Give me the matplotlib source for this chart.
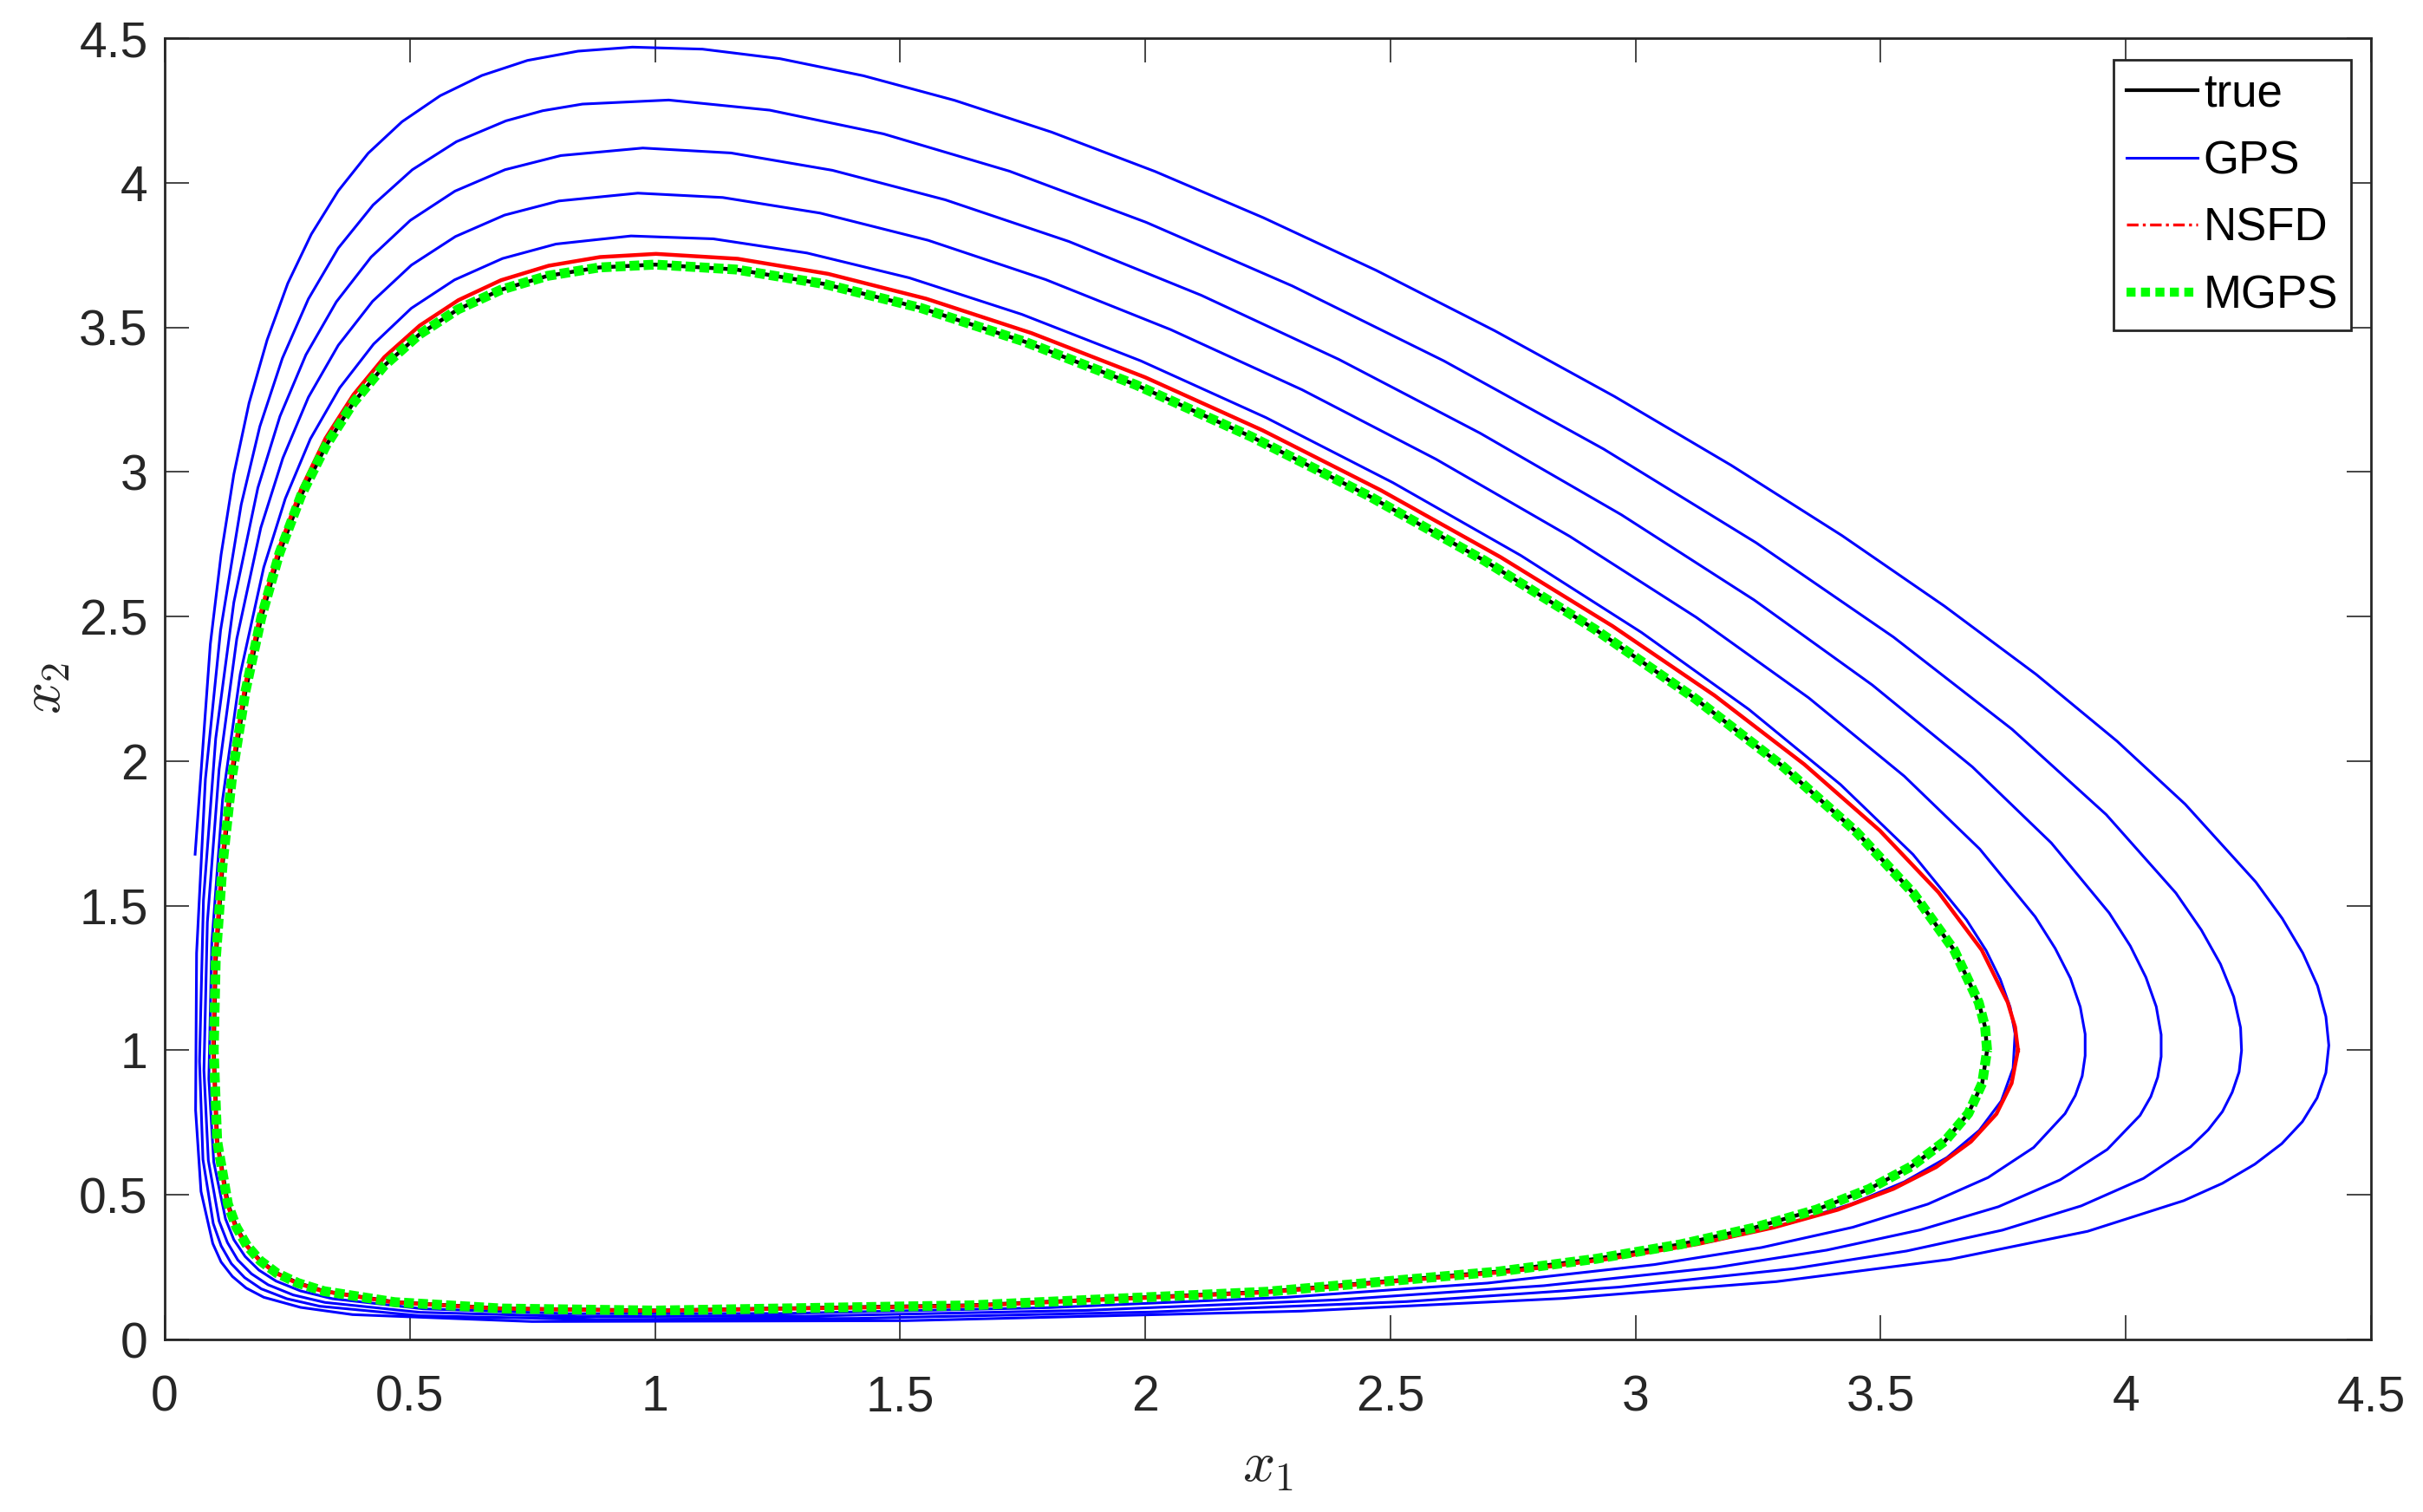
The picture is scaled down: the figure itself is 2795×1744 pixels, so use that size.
import matplotlib
matplotlib.use('Agg')
import matplotlib.pyplot as plt
from matplotlib.lines import Line2D

plt.rcParams['font.family'] = ['Liberation Sans', 'DejaVu Sans']
plt.rcParams['mathtext.fontset'] = 'cm'

# ---------------- data ----------------
true_x1 = [3.717,3.713,3.700,3.650,3.567,3.451,3.301,3.121,2.917,2.692,2.456,2.216,1.981,1.753,1.542,1.345,1.165,1.000,0.886,0.781,
           0.686,0.598,0.519,0.448,0.385,0.329,0.278,0.234,0.197,0.165,0.138,0.118,0.104,0.100,0.107,0.129,0.146,0.168,0.195,0.229,
           0.272,0.325,0.469,0.688,1.001,1.644,2.247,2.721,2.920,3.092,3.241,3.369,3.476,3.563,3.631,3.679,3.707,3.717]
true_x2 = [1.000,1.080,1.165,1.346,1.542,1.754,1.981,2.217,2.456,2.693,2.917,3.122,3.301,3.451,3.567,3.650,3.700,3.717,3.707,3.678,
           3.630,3.562,3.475,3.368,3.240,3.091,2.918,2.719,2.496,2.244,1.955,1.641,1.310,0.999,0.686,0.468,0.389,0.324,0.272,0.229,
           0.195,0.167,0.129,0.107,0.100,0.118,0.165,0.235,0.279,0.329,0.386,0.449,0.520,0.599,0.686,0.782,0.886,1.000]

nsfd_x1 = [3.780,3.774,3.759,3.706,3.618,3.498,3.344,3.161,2.953,2.725,2.480,2.239,2.000,1.768,1.553,1.353,1.169,1.002,0.888,0.783,
           0.686,0.599,0.520,0.448,0.385,0.328,0.278,0.234,0.196,0.164,0.137,0.117,0.103,0.099,0.106,0.127,0.144,0.166,0.193,0.226,
           0.268,0.320,0.463,0.678,0.989,1.637,2.249,2.744,2.947,3.127,3.281,3.413,3.526,3.613,3.684,3.736,3.767,3.780]
nsfd_x2 = [1.000,1.081,1.166,1.347,1.546,1.760,1.989,2.227,2.467,2.705,2.937,3.144,3.327,3.480,3.599,3.685,3.737,3.754,3.743,3.713,
           3.663,3.594,3.506,3.397,3.267,3.116,2.940,2.740,2.515,2.262,1.970,1.653,1.319,1.005,0.690,0.471,0.391,0.326,0.273,0.230,
           0.196,0.168,0.129,0.107,0.099,0.116,0.163,0.235,0.279,0.330,0.387,0.449,0.521,0.596,0.684,0.780,0.886,1.000]

gps_x1 = [1.000,1.667,2.292,2.780,2.982,3.160,3.312,3.441,3.548,3.635,3.701,3.746,3.770,3.774,3.764,3.744,3.715,3.675,3.566,3.418,
          3.231,3.012,2.766,2.505,2.246,1.991,1.748,1.519,1.310,1.119,0.951,0.798,0.689,0.591,0.503,0.426,0.357,0.297,0.246,0.202,
          0.154,0.118,0.096,0.090,0.100,0.124,0.141,0.164,0.192,0.227,0.277,0.342,0.527,0.828,1.264,1.802,2.289,2.698,3.038,3.257,
          3.443,3.596,3.719,3.812,3.876,3.897,3.911,3.917,3.917,3.907,3.887,3.856,3.815,3.702,3.548,3.353,3.124,2.866,2.593,2.320,
          2.052,1.797,1.557,1.337,1.138,0.965,0.804,0.693,0.593,0.503,0.424,0.354,0.293,0.241,0.196,0.147,0.111,0.087,0.080,0.089,
          0.111,0.128,0.149,0.177,0.211,0.262,0.327,0.520,0.842,1.317,1.884,2.391,2.813,3.165,3.390,3.581,3.740,3.866,3.962,4.029,
          4.051,4.065,4.072,4.072,4.062,4.041,4.009,3.966,3.848,3.687,3.483,3.242,2.971,2.683,2.395,2.114,1.844,1.592,1.362,1.155,
          0.975,0.808,0.694,0.592,0.501,0.421,0.350,0.288,0.235,0.190,0.141,0.104,0.079,0.071,0.078,0.099,0.115,0.136,0.163,0.197,
          0.249,0.316,0.521,0.880,1.412,2.011,2.533,2.965,3.323,3.553,3.748,3.909,4.036,4.132,4.168,4.197,4.217,4.231,4.236,4.234,
          4.220,4.193,4.154,4.102,3.960,3.768,3.526,3.246,2.935,2.609,2.300,2.002,1.723,1.466,1.234,1.028,0.852,0.771,0.696,0.595,
          0.505,0.425,0.354,0.293,0.240,0.194,0.156,0.114,0.083,0.065,0.063,0.074,0.098,0.115,0.138,0.166,0.202,0.277,0.383,0.749,
          1.511,2.318,2.852,3.287,3.641,3.922,4.118,4.197,4.263,4.318,4.360,4.390,4.408,4.414,4.408,4.391,4.361,4.319,4.265,4.121,
          3.982,3.817,3.630,3.421,3.195,2.957,2.713,2.471,2.241,2.020,1.809,1.611,1.425,1.255,1.097,0.954,0.843,0.740,0.647,0.562,
          0.484,0.415,0.354,0.299,0.251,0.209,0.172,0.141,0.115,0.093,0.062]
gps_x2 = [0.100,0.118,0.168,0.241,0.288,0.341,0.401,0.469,0.545,0.629,0.723,0.825,0.938,1.057,1.149,1.245,1.345,1.451,1.677,1.919,
          2.179,2.445,2.711,2.963,3.188,3.384,3.545,3.671,3.757,3.806,3.816,3.788,3.738,3.664,3.566,3.442,3.291,3.114,2.908,2.670,
          2.300,1.867,1.370,0.901,0.614,0.417,0.345,0.287,0.240,0.202,0.168,0.141,0.106,0.089,0.090,0.110,0.146,0.195,0.259,0.318,
          0.388,0.468,0.560,0.664,0.781,0.844,0.911,0.981,1.056,1.150,1.249,1.352,1.462,1.696,1.948,2.219,2.497,2.777,3.044,3.284,
          3.492,3.665,3.801,3.895,3.949,3.964,3.937,3.888,3.814,3.715,3.590,3.438,3.258,3.048,2.807,2.423,1.972,1.443,0.931,0.619,
          0.409,0.335,0.275,0.227,0.189,0.154,0.128,0.094,0.079,0.081,0.101,0.137,0.186,0.249,0.309,0.379,0.459,0.552,0.657,0.775,
          0.840,0.907,0.978,1.054,1.151,1.252,1.361,1.475,1.717,1.980,2.263,2.557,2.852,3.134,3.389,3.611,3.797,3.941,4.043,4.103,
          4.120,4.094,4.045,3.971,3.870,3.743,3.588,3.405,3.192,2.945,2.549,2.078,1.519,0.962,0.622,0.401,0.324,0.262,0.214,0.175,
          0.141,0.115,0.082,0.069,0.073,0.095,0.131,0.181,0.245,0.306,0.378,0.462,0.557,0.666,0.725,0.788,0.855,0.925,0.999,1.078,
          1.185,1.298,1.416,1.544,1.815,2.110,2.429,2.755,3.079,3.384,3.643,3.863,4.040,4.169,4.251,4.286,4.272,4.249,4.214,4.142,
          4.045,3.923,3.774,3.598,3.393,3.157,2.887,2.453,1.938,1.336,0.793,0.512,0.332,0.268,0.218,0.178,0.146,0.111,0.086,0.062,
          0.065,0.098,0.142,0.200,0.277,0.374,0.480,0.540,0.606,0.677,0.753,0.835,0.922,1.017,1.117,1.223,1.336,1.456,1.582,1.851,
          2.069,2.300,2.536,2.780,3.023,3.261,3.488,3.697,3.879,4.039,4.175,4.285,4.370,4.429,4.462,4.469,4.455,4.423,4.371,4.301,
          4.211,4.102,3.972,3.822,3.652,3.457,3.238,2.992,2.714,2.404,1.678]

# MGPS coincides with the true orbit at the resolution of the picture
mgps_x1 = list(true_x1)
mgps_x2 = list(true_x2)

series_names = ["true", "GPS", "NSFD", "MGPS"]
tick_values = [0, 0.5, 1, 1.5, 2, 2.5, 3, 3.5, 4, 4.5]
tick_labels = ["0", "0.5", "1", "1.5", "2", "2.5", "3", "3.5", "4", "4.5"]

# ---------------- figure ----------------
W, H = 2795, 1744
fig = plt.figure(figsize=(W/100, H/100), dpi=100)
ax = fig.add_axes([190/W, (H-1545)/H, (2735-190)/W, (1545-44)/H])

axc = '#262626'
ax.plot(true_x1, true_x2, color='#000000', lw=3.2, zorder=2, solid_joinstyle='round')
ax.plot(gps_x1, gps_x2, color='#0000FF', lw=2.2, zorder=3, solid_joinstyle='round')
ax.plot(nsfd_x1, nsfd_x2, color='#FF0000', lw=3.2, zorder=4, solid_joinstyle='round')
ax.plot(mgps_x1, mgps_x2, color='#00FF00', lw=8.2, zorder=5,
        linestyle=(0, (1.0, 0.42)), dash_capstyle='butt')

ax.set_xlim(0, 4.5)
ax.set_ylim(0, 4.5)
ax.set_xticks(tick_values)
ax.set_xticklabels(tick_labels)
ax.set_yticks(tick_values)
ax.set_yticklabels(tick_labels)
ax.tick_params(axis='both', which='major', direction='in', length=20, width=1.2,
               colors=axc, labelsize=41, top=True, right=True)
ax.tick_params(axis='x', pad=29)
ax.tick_params(axis='y', pad=14)
for s in ax.spines.values():
    s.set_linewidth(2.0)
    s.set_color(axc)

ax.set_xlabel(r'$x_1$', fontsize=47, color=axc)
ax.set_ylabel(r'$x_2$', fontsize=47, color=axc)
ax.xaxis.label.set_verticalalignment('center')
ax.yaxis.label.set_verticalalignment('center')
ax.xaxis.set_label_coords(0.5, (1545-1692)/1501)
ax.yaxis.set_label_coords((53-190)/2546, 0.5)

handles = [
    Line2D([], [], color='#000000', lw=3.0),
    Line2D([], [], color='#0000FF', lw=2.2),
    Line2D([], [], color='#FF0000', lw=2.4, linestyle=(0, (4, 1.5, 1, 1.5))),
    Line2D([], [], color='#00FF00', lw=7.5, linestyle=(0, (1.0, 0.6)), dash_capstyle='butt'),
]
leg = ax.legend(handles, series_names, loc='upper right',
                bbox_to_anchor=((2713-190)/2546, (1545-69)/1501), borderaxespad=0,
                fontsize=38, frameon=True, fancybox=False, framealpha=1,
                handlelength=1.55, handletextpad=0.13, labelspacing=0.52, borderpad=0.28)
leg.get_frame().set_edgecolor(axc)
leg.get_frame().set_linewidth(2.0)

fig.savefig('out.png', dpi=100, facecolor='white')
